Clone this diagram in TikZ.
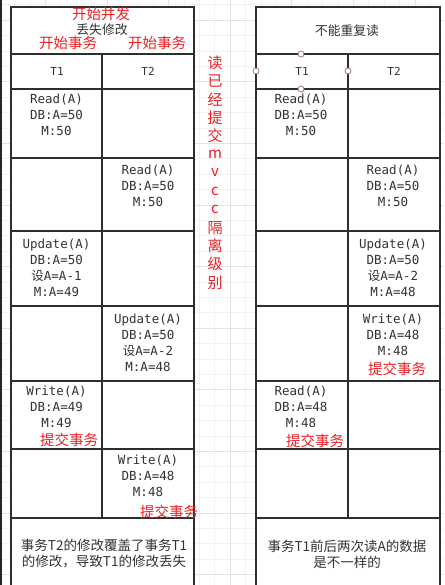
\documentclass[tikz,border=0pt]{standalone}
\usepackage{fontspec}
\setmainfont{Noto Sans CJK SC}
\setmonofont{DejaVu Sans Mono}
\newfontfamily\cjk{Noto Sans CJK SC}
\definecolor{txt}{RGB}{51,51,51}
\definecolor{hot}{RGB}{236,32,36}
\definecolor{hdlc}{RGB}{160,120,120}
\tikzstyle{tbl}=[line width=1.6pt, draw=black!82]
\tikzstyle{gridln}=[line width=0.5pt, draw=black!5]
\tikzstyle{gridmaj}=[line width=0.6pt, draw=black!11]
\tikzstyle{op}=[inner sep=0, anchor=north, align=center, text=txt, font=\ttfamily\fontsize{12.5}{16}\selectfont]
\tikzstyle{hd}=[inner sep=0, text=txt, font=\ttfamily\fontsize{11}{13}\selectfont]
\tikzstyle{ttl}=[inner sep=0, text=txt, font=\fontsize{12.8}{15}\selectfont]
\tikzstyle{cmt}=[inner sep=0, text=hot, font=\fontsize{14.5}{16}\selectfont]
\tikzstyle{side}=[inner sep=0, text=hot, font=\fontsize{15}{17}\selectfont]
\tikzstyle{note}=[inner sep=0, align=center, text=txt, font=\fontsize{13.5}{16}\selectfont]
\tikzstyle{hdl}=[shape=circle, minimum size=6pt, inner sep=0, draw=hdlc, line width=0.8pt, fill=white]

\begin{document}
\begin{tikzpicture}[x=1pt, y=-1pt]
\useasboundingbox (0,0) rectangle (444,585);
\fill[white] (0,0) rectangle (444,585);
% background grid
\foreach \i in {0,...,29}
    \draw[gridln] ({-1+15.4*\i},0) -- ({-1+15.4*\i},585);
\foreach \i in {0,...,39}
    \draw[gridln] (0,{-10.8+15.4*\i}) -- (444,{-10.8+15.4*\i});
\foreach \i in {0,...,6}
    \draw[gridmaj] ({45.2+61.6*\i},0) -- ({45.2+61.6*\i},585);
\foreach \i in {0,...,9}
    \draw[gridmaj] (0,{20+61.6*\i}) -- (444,{20+61.6*\i});
\draw[line width=2.5pt, black!85] (1,0) -- (1,585);
%
% the two tables
\foreach \a/\b/\c in {11/102/194, 256/348/440}
    {
	\fill[white] (\a,7) rectangle (\c,585);
	\draw[tbl] (\a,585) -- (\a,7) -- (\c,7) -- (\c,585);
	\foreach \y in {54,89,158,231,306,381,449,518}
	    \draw[tbl] (\a,\y) -- (\c,\y);
	\draw[tbl] (\b,54) -- (\b,518);}
%
% left table
\draw (101,14) node[cmt] (bing) {开始并发};
\draw (102,30) node[ttl] (ltitle) {丢失修改};
\draw (68,43) node[cmt] (lbeg1) {开始事务};
\draw (157,43) node[cmt] (lbeg2) {开始事务};
\draw (57,71) node[hd] (lt1) {T1};
\draw (148,71) node[hd] (lt2) {T2};
\draw (56.5,94) node[op] (l1) {Read(A)\\DB:A=50\\M:50};
\draw (148,165) node[op] (l2) {Read(A)\\DB:A=50\\M:50};
\draw (56.5,239) node[op] (l3) {Update(A)\\DB:A=50\\{\cjk 设}A=A-1\\M:A=49};
\draw (148,314) node[op] (l4) {Update(A)\\DB:A=50\\{\cjk 设}A=A-2\\M:A=48};
\draw (56.5,386) node[op] (l5) {Write(A)\\DB:A=49\\M:49};
\draw (69,440) node[cmt] (lend1) {提交事务};
\draw (148,455) node[op] (l6) {Write(A)\\DB:A=48\\M:48};
\draw (169,512) node[cmt] (lend2) {提交事务};
\draw (104,554) node[note] (lnote) {事务T2的修改覆盖了事务T1\\的修改，导致T1的修改丢失};
%
% vertical label between the tables
\foreach \ch [count=\i from 0] in {读,已,经,提,交,m,v,c,c,隔,离,级,别}
    \draw (215,{63+18.3*\i}) node[side] (mid\i) {\ch};
%
% right table
\draw (347,31) node[ttl] (rtitle) {不能重复读};
\draw (302,71) node[hd] (rt1) {T1};
\draw (394,71) node[hd] (rt2) {T2};
\draw (301,54) node[hdl] (h1) {};
\draw (256,71) node[hdl] (h2) {};
\draw (348,71) node[hdl] (h3) {};
\draw (301,89) node[hdl] (h4) {};
\draw (301,94) node[op] (r1) {Read(A)\\DB:A=50\\M:50};
\draw (393,165) node[op] (r2) {Read(A)\\DB:A=50\\M:50};
\draw (393,239) node[op] (r3) {Update(A)\\DB:A=50\\{\cjk 设}A=A-2\\M:A=48};
\draw (393,314) node[op] (r4) {Write(A)\\DB:A=48\\M:48};
\draw (397,369) node[cmt] (rend1) {提交事务};
\draw (301,386) node[op] (r5) {Read(A)\\DB:A=48\\M:48};
\draw (315,441) node[cmt] (rend2) {提交事务};
\draw (347,554) node[note] (rnote) {事务T1前后两次读A的数据\\是不一样的};
\end{tikzpicture}
\end{document}
